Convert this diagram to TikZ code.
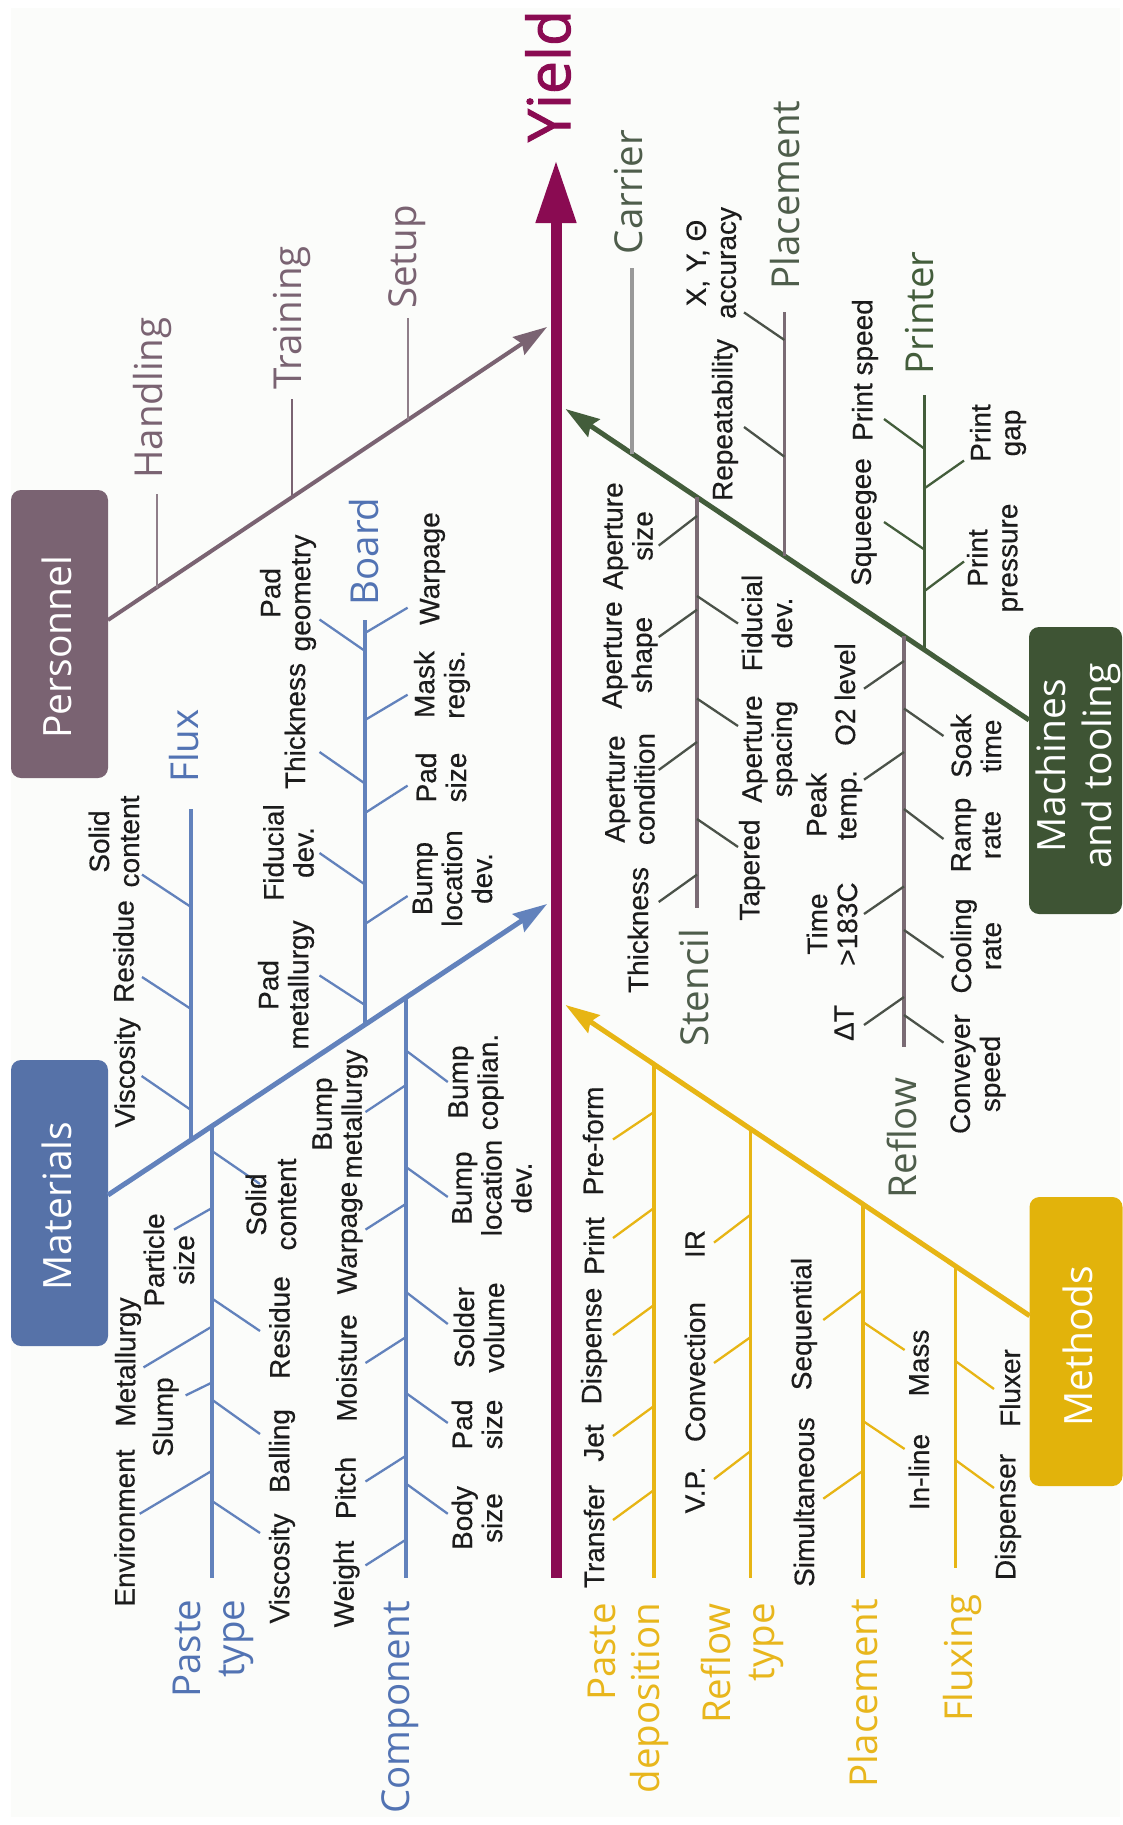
\documentclass[tikz,border=0pt]{standalone}
\usepackage{fontspec}
\setmainfont[FakeBold=0.4]{Liberation Sans}
\newfontfamily\osf{Open Sans}
\newfontfamily\osy[FakeBold=1.6]{Open Sans}
\usetikzlibrary{arrows.meta}
\definecolor{yieldc}{HTML}{8A0B52}
\definecolor{perc}{HTML}{7A6372}
\definecolor{ptick}{HTML}{8F7E89}
\definecolor{matbox}{HTML}{5672A8}
\definecolor{matline}{HTML}{6282BC}
\definecolor{matlbl}{HTML}{5273B3}
\definecolor{machbox}{HTML}{3E5434}
\definecolor{machline}{HTML}{435D3B}
\definecolor{machgray}{HTML}{7A6B74}
\definecolor{machtick}{HTML}{4B5249}
\definecolor{machlbl}{HTML}{4E5D4B}
\definecolor{methbox}{HTML}{E2B30B}
\definecolor{methline}{HTML}{E7B514}
\definecolor{methlbl}{HTML}{E8B61C}
\definecolor{txt}{HTML}{1C1C1C}
\definecolor{bgc}{HTML}{FBFCFA}
\newcommand\tk[4]{\coordinate (#1a) at (#3); \coordinate (#1b) at (#4); \draw[#2] (#1a) -- (#1b);}
\tikzset{
  sl/.style={font=\fontsize{28}{30}\selectfont, text=txt, inner sep=0pt, rotate=90, align=center},
  bl/.style={font=\osf\fontsize{38.5}{44}\selectfont, inner sep=0pt, rotate=90, align=center},
  boxs/.style={rounded corners=10pt, inner sep=0pt, rotate=90, draw=none},
  boxt/.style={font=\osf\fontsize{39}{46}\selectfont, text=white, inner sep=0pt, rotate=90, align=center},
  bone/.style={line width=4.5pt, -{Stealth[length=34pt,width=21pt,inset=4pt]}},
  stem/.style={line width=3.2pt},
  tck/.style={line width=2.3pt},
}
\begin{document}
\begin{tikzpicture}[x=1pt,y=-1pt]
\useasboundingbox (0,0) rectangle (1122,1825);
\fill[white] (0,0) rectangle (1122,1825);
\fill[bgc] (11,8) rectangle (1120,1817);

% ---------- spine ----------
\coordinate (sp0) at (556,1578);
\coordinate (sp1) at (556,160);
\draw[yieldc, line width=11pt, -{Triangle[length=63pt,width=38pt]}] (sp0) -- (sp1);
\node[font=\osy\fontsize{59}{62}\selectfont, text=yieldc, inner sep=0pt, rotate=90] (yield) at (548,76) {Yield};

% ---------- Personnel ----------
\node[boxs, fill=perc, minimum width=288pt, minimum height=97pt] (perbox) at (59.5,634) {};
\node[boxt] (pertxt) at (57,647) {Personnel};
\coordinate (pb0) at (108,620); \coordinate (pbt) at (547,327);
\draw[bone, perc, line width=4pt] (pb0) -- (pbt);
\coordinate (ph0) at (157,588); \coordinate (ph1) at (157,494);
\coordinate (pt0) at (292,497.6); \coordinate (pt1) at (292,399);
\coordinate (ps0) at (408,420); \coordinate (ps1) at (408,318);
\draw[stem, ptick, line width=2.8pt] (ph0) -- (ph1);
\draw[stem, perc, line width=2.8pt] (pt0) -- (pt1);
\draw[stem, ptick, line width=2.8pt] (ps0) -- (ps1);
\node[bl, text=perc] (handling) at (152,398) {Handling};
\node[bl, text=perc] (training) at (292,318) {Training};
\node[bl, text=perc] (setup) at (407,257) {Setup};

% ---------- Materials ----------
\node[boxs, fill=matbox, minimum width=286pt, minimum height=97pt] (matbox) at (59.5,1203) {};
\node[boxt] (mattxt) at (57,1206) {Materials};
\coordinate (mb0) at (108,1195); \coordinate (mbt) at (547,904);
\draw[bone, matline, line width=5pt] (mb0) -- (mbt);
\coordinate (fx0) at (191,1140.5); \coordinate (fx1) at (191,808.5);
\coordinate (bd0) at (365,1025); \coordinate (bd1) at (365,619.5);
\coordinate (pa0) at (212,1126.6); \coordinate (pa1) at (212,1578);
\coordinate (co0) at (406,997.7); \coordinate (co1) at (406,1578);
\draw[stem, matline] (fx0) -- (fx1);
\draw[stem, matline] (bd0) -- (bd1);
\draw[stem, matline] (pa0) -- (pa1);
\draw[stem, matline] (co0) -- (co1);
\node[bl, text=matlbl] (flux) at (184,746) {Flux};
\node[bl, text=matlbl] (board) at (364.5,551.5) {Board};
\node[bl, text=matlbl, align=right] (pastetype) at (213,1648.5) {Paste\\type};
\node[bl, text=matlbl] (component) at (400,1707.5) {Component};
% flux ticks
\tk{f1}{tck,matline}{191,1110}{141.6,1076}
\tk{f2}{tck,matline}{191,1009}{142,977}
\tk{f3}{tck,matline}{191,907}{142,874.6}
\node[sl] (fvisc) at (127.5,1072.5) {Viscosity};
\node[sl] (fres) at (123.5,951.5) {Residue};
\node[sl] (fsolid) at (114,841.5) {Solid\\content};
% board ticks
\tk{b1}{tck,matline}{365,1005}{319.5,975.4}
\tk{b2}{tck,matline}{365,884.5}{319.5,853}
\tk{b3}{tck,matline}{365,783.6}{319.5,752}
\tk{b4}{tck,matline}{365,651}{319.5,619.5}
\tk{b5}{tck,matline}{365,924}{407.6,896}
\tk{b6}{tck,matline}{365,813}{407.6,785.6}
\tk{b7}{tck,matline}{365,720}{407.6,694.7}
\tk{b8}{tck,matline}{365,633}{407.6,607.7}
\node[sl] (bpadmet) at (286,985) {Pad\\metallurgy};
\node[sl] (bfid) at (288.5,852.5) {Fiducial\\dev.};
\node[sl] (bthick) at (295,726) {Thickness};
\node[sl] (bpadgeo) at (288,593) {Pad\\geometry};
\node[sl] (bbump) at (452.5,878.5) {Bump\\location\\dev.};
\node[sl] (bpadsize) at (441,777.5) {Pad\\size};
\node[sl] (bmask) at (442,684.5) {Mask\\regis.};
\node[sl] (bwarp) at (432.5,568.5) {Warpage};
% paste type ticks
\tk{p1}{tck,matline}{212,1208}{174,1229.6}
\tk{p2}{tck,matline}{212,1326.5}{143.5,1367.4}
\tk{p3}{tck,matline}{212,1382.5}{185.6,1395.4}
\tk{p4}{tck,matline}{212,1470.7}{139.7,1513.8}
\tk{p5}{tck,matline}{212,1151}{260,1184}
\tk{p6}{tck,matline}{212,1298.5}{260,1331}
\tk{p7}{tck,matline}{212,1399.7}{260,1434}
\tk{p8}{tck,matline}{212,1501}{260,1533}
\node[sl] (penv) at (124.5,1528) {Environment};
\node[sl] (pmet) at (128,1362) {Metallurgy};
\node[sl] (ppart) at (169,1260) {Particle\\size};
\node[sl] (pslump) at (165.5,1417) {Slump};
\node[sl] (psolid) at (271,1204.5) {Solid\\content};
\node[sl] (pres) at (279.5,1327.5) {Residue};
\node[sl] (pball) at (282,1451) {Balling};
\node[sl] (pvisc) at (282,1568.5) {Viscosity};
% component ticks
\tk{c1}{tck,matline}{406,1085}{365.5,1112}
\tk{c2}{tck,matline}{406,1203.8}{365.5,1229.6}
\tk{c3}{tck,matline}{406,1337}{365.5,1363}
\tk{c4}{tck,matline}{406,1455.7}{365.5,1481.5}
\tk{c5}{tck,matline}{406,1539.6}{365.5,1565.4}
\tk{c6}{tck,matline}{406,1050.5}{447.8,1082}
\tk{c7}{tck,matline}{406,1167}{447.8,1197}
\tk{c8}{tck,matline}{406,1292}{447.8,1324}
\tk{c9}{tck,matline}{406,1393}{447.8,1423}
\tk{c10}{tck,matline}{406,1483.6}{447.8,1513.8}
\node[sl] (cbmet) at (340,1114) {Bump\\metallurgy};
\node[sl] (cwarp) at (350,1238) {Warpage};
\node[sl] (cmoist) at (346.5,1368) {Moisture};
\node[sl] (cpitch) at (345.5,1488) {Pitch};
\node[sl] (cweight) at (346.5,1584) {Weight};
\node[sl] (ccop) at (476,1082) {Bump\\coplian.};
\node[sl] (cbloc) at (492,1188) {Bump\\location\\dev.};
\node[sl] (csold) at (479,1327.5) {Solder\\volume};
\node[sl] (cpad) at (477,1424.5) {Pad\\size};
\node[sl] (cbody) at (477,1518) {Body\\size};

% ---------- Machines and tooling ----------
\node[boxs, fill=machbox, minimum width=287pt, minimum height=93pt] (machbox) at (1075.5,770.5) {};
\node[boxt] (machtxt) at (1078,766) {Machines\\and tooling};
\coordinate (kb0) at (1029,720); \coordinate (kbt) at (565.5,409);
\draw[bone, machline, line width=5pt] (kb0) -- (kbt);
\coordinate (ca0) at (632,453.6); \coordinate (ca1) at (632,268);
\coordinate (pl0) at (784.4,555.9); \coordinate (pl1) at (784.4,312.4);
\coordinate (pr0) at (924.5,649.9); \coordinate (pr1) at (924.5,395.4);
\coordinate (st0) at (697,497.2); \coordinate (st1) at (697,908);
\coordinate (rf0) at (904,636.1); \coordinate (rf1) at (904,1046.6);
\draw[stem, gray!80] (ca0) -- (ca1);
\draw[stem, machgray] (pl0) -- (pl1);
\draw[stem, machline] (pr0) -- (pr1);
\draw[stem, machgray] (st0) -- (st1);
\draw[stem, machgray] (rf0) -- (rf1);
\node[bl, text=machlbl] (carrier) at (629,192) {Carrier};
\node[bl, text=machlbl] (mplace) at (785,195) {Placement};
\node[bl, text=machline] (printer) at (920,313) {Printer};
\node[bl, text=machlbl] (stencil) at (694,988) {Stencil};
\node[bl, text=machlbl] (reflow) at (902,1138) {Reflow};
% placement ticks
\tk{k1}{tck,machtick}{784.4,456.7}{744,427}
\tk{k2}{tck,machtick}{784.4,340}{744,312.4}
\node[sl] (krep) at (725,420) {Repeatability};
\node[sl] (kacc) at (714,263) {X, Y, Θ\\accuracy};
% printer ticks
\tk{r1}{tck,machline}{924.5,448.8}{884,419}
\tk{r2}{tck,machline}{924.5,549.6}{884,522}
\tk{r3}{tck,machline}{924.5,488.3}{964,460.6}
\tk{r4}{tck,machline}{924.5,591}{964,561.5}
\node[sl] (rspeed) at (865,370) {Print speed};
\node[sl] (rsqu) at (864,522) {Squeegee};
\node[sl] (rgap) at (998,433) {Print\\gap};
\node[sl] (rpress) at (995,558) {Print\\pressure};
% stencil ticks
\tk{s1}{tck,machtick}{697,874.6}{658.7,902}
\tk{s2}{tck,machtick}{697,742}{658.7,770}
\tk{s3}{tck,machtick}{697,609.7}{658.7,637}
\tk{s4}{tck,machtick}{697,516}{658.7,545.6}
\tk{s5}{tck,machtick}{697,819}{738,847}
\tk{s6}{tck,machtick}{697,698.6}{738,726}
\tk{s7}{tck,machtick}{697,596}{738,623.5}
\node[sl] (sthick) at (638,930) {Thickness};
\node[sl] (scond) at (630,789) {Aperture\\condition};
\node[sl] (sshape) at (630,655) {Aperture\\shape};
\node[sl] (ssize) at (628,536) {Aperture\\size};
\node[sl] (stap) at (752,870) {Tapered};
\node[sl] (sspac) at (770,749) {Aperture\\spacing};
\node[sl] (sfid) at (767,623) {Fiducial\\dev.};
% reflow ticks
\tk{w1}{tck,machtick}{904,997}{864,1025}
\tk{w2}{tck,machtick}{904,886.4}{864,914}
\tk{w3}{tck,machtick}{904,752}{864,779.7}
\tk{w4}{tck,machtick}{904,661}{864,688.7}
\tk{w5}{tck,machtick}{904,1015}{943.5,1042.6}
\tk{w6}{tck,machtick}{904,930}{943.5,957.6}
\tk{w7}{tck,machtick}{904,809}{943.5,839}
\tk{w8}{tck,machtick}{904,708.5}{943.5,736}
\node[sl] (wdt) at (844,1023) {ΔT};
\node[sl] (wtime) at (832,924) {Time\\>183C};
\node[sl] (wpeak) at (834,805) {Peak\\temp.};
\node[sl] (wo2) at (845,694.5) {O2 level};
\node[sl] (wconv) at (978,1074) {Conveyer\\speed};
\node[sl] (wcool) at (976,946) {Cooling\\rate};
\node[sl] (wramp) at (976,835) {Ramp\\rate};
\node[sl] (wsoak) at (976,746) {Soak\\time};

% ---------- Methods ----------
\node[boxs, fill=methbox, minimum width=289pt, minimum height=93pt] (methbox) at (1076,1341.5) {};
\node[boxt] (methtxt) at (1078,1346) {Methods};
\coordinate (hb0) at (1029.6,1315.7); \coordinate (hbt) at (565.5,1005);
\draw[bone, methline, line width=5pt] (hb0) -- (hbt);
\coordinate (pd0) at (654,1064.2); \coordinate (pd1) at (654,1578);
\coordinate (rt0) at (750.7,1129); \coordinate (rt1) at (750.7,1578);
\coordinate (mp0) at (863,1204.2); \coordinate (mp1) at (863,1578);
\coordinate (fl0) at (955.4,1266); \coordinate (fl1) at (955.4,1567.6);
\draw[stem, methline] (pd0) -- (pd1);
\draw[stem, methline] (rt0) -- (rt1);
\draw[stem, methline] (mp0) -- (mp1);
\draw[stem, methline] (fl0) -- (fl1);
\node[bl, text=methlbl, align=right] (pastedep) at (628,1698) {Paste\\deposition};
\node[bl, text=methlbl, align=right] (reflowtype) at (742,1663.5) {Reflow\\type};
\node[bl, text=methlbl] (hplace) at (863,1693.5) {Placement};
\node[bl, text=methlbl] (fluxing) at (962,1658) {Fluxing};
% paste deposition ticks
\tk{d1}{tck,methline}{654,1112}{613,1139.5}
\tk{d2}{tck,methline}{654,1208}{613,1238}
\tk{d3}{tck,methline}{654,1305}{613,1335}
\tk{d4}{tck,methline}{654,1406}{613,1436}
\tk{d5}{tck,methline}{654,1490}{613,1520}
\node[sl] (dpre) at (593,1141) {Pre-form};
\node[sl] (dprint) at (594,1246) {Print};
\node[sl] (ddisp) at (594,1346) {Dispense};
\node[sl] (djet) at (594,1443) {Jet};
\node[sl] (dtrans) at (594,1536.5) {Transfer};
% reflow type ticks
\tk{t1}{tck,methline}{750.7,1214.6}{714,1242.6}
\tk{t2}{tck,methline}{750.7,1337}{714,1363}
\tk{t3}{tck,methline}{750.7,1451}{714,1479}
\node[sl] (tir) at (695,1244) {IR};
\node[sl] (tconv) at (695,1372) {Convection};
\node[sl] (tvp) at (695,1490) {V.P.};
% placement ticks
\tk{m1}{tck,methline}{863,1290}{823.3,1320}
\tk{m2}{tck,methline}{863,1470.7}{823.3,1498.7}
\tk{m3}{tck,methline}{863,1322}{904.6,1350}
\tk{m4}{tck,methline}{863,1421}{904.6,1449}
\node[sl] (mseq) at (804,1324) {Sequential};
\node[sl] (msim) at (804,1502) {Simultaneous};
\node[sl] (mmass) at (919,1363) {Mass};
\node[sl] (minl) at (919,1472) {In-line};
% fluxing ticks
\tk{x1}{tck,methline}{955.4,1361}{994,1389}
\tk{x2}{tck,methline}{955.4,1460}{994,1488}
\node[sl] (xflux) at (1010,1388) {Fluxer};
\node[sl] (xdisp) at (1008,1517) {Dispenser};
\end{tikzpicture}
\end{document}
